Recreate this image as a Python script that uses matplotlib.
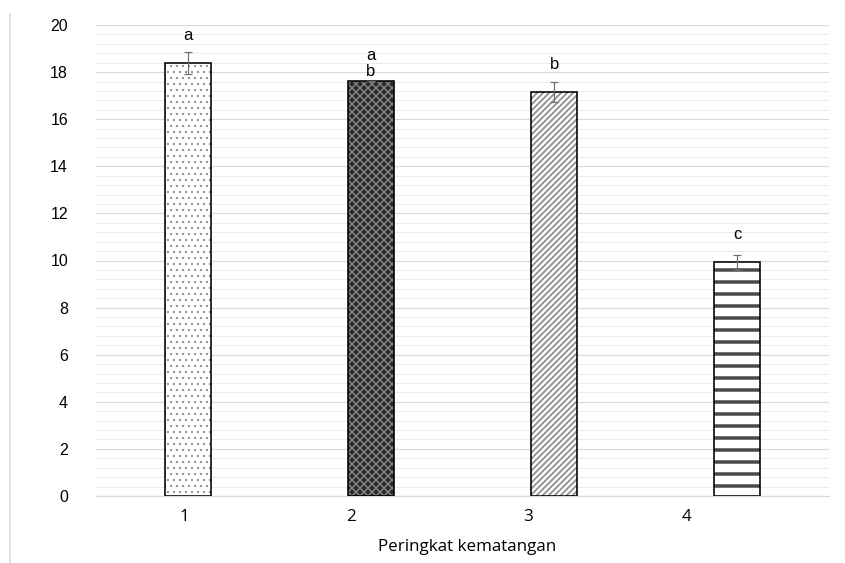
import matplotlib.pyplot as plt
from matplotlib.lines import Line2D
from matplotlib.ticker import MultipleLocator
import numpy as np

# data
categories = ['1', '2', '3', '4']
values = [18.40, 17.64, 17.14, 9.92]
errors = [0.46, 0.0, 0.42, 0.33]
letters = ['a', 'a\nb', 'b', 'c']

# styling per bar: face, hatch, hatch colour, hatch width
faces = ['white', '#2a2a2a', 'white', 'white']
hatches = ['..', 'xxx', '////', '-']
hatch_cols = ['#8c8c8c', '#8a8a8a', '#8f8f8f', '#4a4a4a']
hatch_lws = [1.0, 1.4, 1.8, 3.5]
label_off = [20, 2, 20, 20]
tick_shift = [-0.02, -0.106, -0.142, -0.275]

DPI = 72
fig = plt.figure(figsize=(845 / DPI, 563 / DPI), dpi=DPI)
ax = fig.add_axes([96 / 845, 1 - 496 / 563, 733 / 845, 471 / 563])

x = np.arange(len(categories))
width = 0.25

for i in range(len(x)):
    with plt.rc_context({'hatch.linewidth': hatch_lws[i], 'hatch.color': hatch_cols[i]}):
        b = ax.bar(x[i], values[i], width, color=faces[i], hatch=hatches[i],
                   edgecolor=hatch_cols[i], linewidth=0, zorder=3)
        for p in b:
            if hasattr(p, 'set_hatch_linewidth'):
                p.set_hatch_linewidth(hatch_lws[i])
    ax.bar(x[i], values[i], width, color='none', edgecolor='black',
           linewidth=1.6, zorder=4)

ax.errorbar(x, values, yerr=errors, fmt='none', ecolor='#6f6f6f',
            elinewidth=1.2, capsize=4, capthick=1.2, zorder=5)

for i in range(len(x)):
    ax.annotate(letters[i], (x[i], values[i]), xytext=(0, label_off[i]),
                textcoords='offset points', ha='center', va='bottom',
                fontsize=16.5, family='Liberation Sans', linespacing=1.05)

ax.set_xlim(-0.5, 3.5)
ax.set_ylim(0, 20)
ax.yaxis.set_major_locator(MultipleLocator(2))
ax.yaxis.set_minor_locator(MultipleLocator(0.4))
ax.grid(which='major', axis='y', color='#d9d9d9', linewidth=1.2, zorder=0)
ax.grid(which='minor', axis='y', color='#ececec', linewidth=1.0, zorder=0)
ax.set_axisbelow(True)

ax.set_xticks(x + np.array(tick_shift))
ax.set_xticklabels(categories)
ax.tick_params(axis='x', length=0, pad=13, labelsize=17)
ax.tick_params(axis='y', which='both', length=0, pad=28, labelsize=16)
for t in ax.get_yticklabels():
    t.set_family('Liberation Sans')
for t in ax.get_xticklabels():
    t.set_family('Open Sans')

for s in ['top', 'right', 'left']:
    ax.spines[s].set_visible(False)
ax.spines['bottom'].set_color('#d9d9d9')
ax.spines['bottom'].set_linewidth(1.2)

ax.text((467 - 96) / 733, (496 - 547) / 471, 'Peringkat kematangan',
        transform=ax.transAxes, ha='center', va='center', fontsize=17,
        family='Open Sans')

fig.add_artist(Line2D([9.5 / 845, 9.5 / 845], [0, 1 - 14 / 563],
                      color='#d9d9d9', linewidth=1.5))

fig.savefig('out.png', dpi=DPI)
